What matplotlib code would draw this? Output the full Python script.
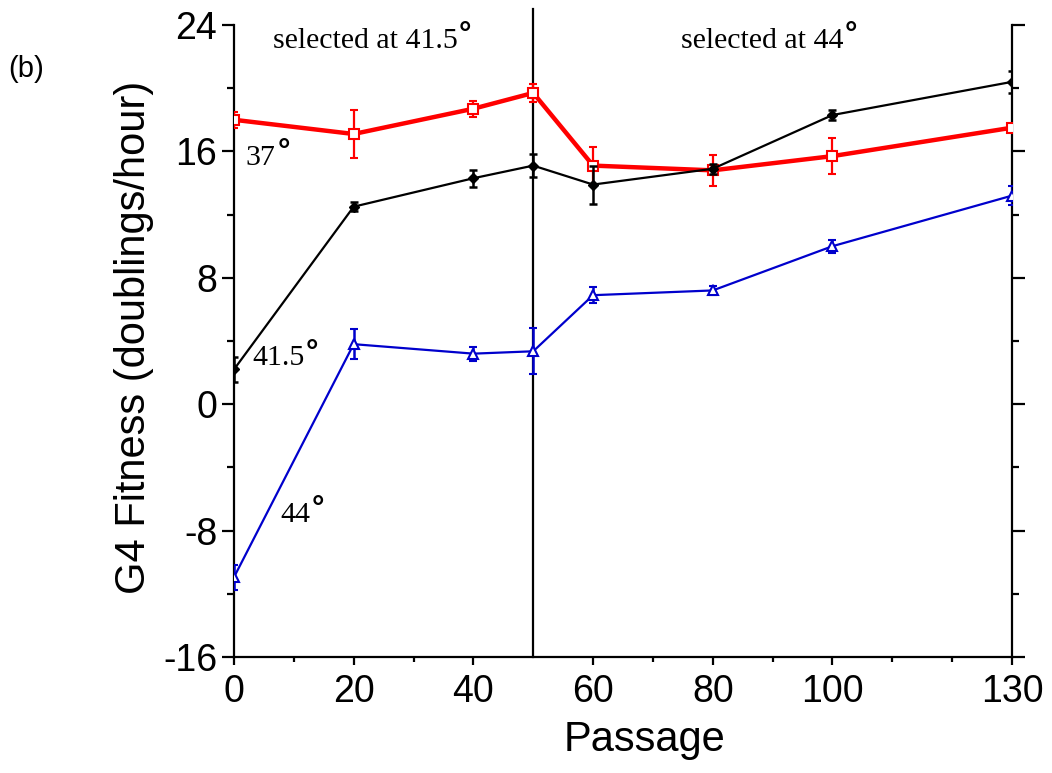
import numpy as np
import matplotlib
matplotlib.use('Agg')
import matplotlib.pyplot as plt
from matplotlib.ticker import FixedLocator, MultipleLocator

# passage numbers where fitness was measured
passage = [0, 20, 40, 50, 60, 80, 100, 130]

# G4 fitness at 37 deg (red, open squares)
fit_37 = [18.0, 17.1, 18.7, 19.7, 15.1, 14.8, 15.7, 17.5]
err_37 = [0.5, 1.5, 0.5, 0.55, 1.2, 1.0, 1.15, 0.2]

# G4 fitness at 41.5 deg (black, filled diamonds)
fit_415 = [2.2, 12.5, 14.3, 15.1, 13.9, 14.9, 18.3, 20.4]
err_415 = [0.8, 0.3, 0.55, 0.75, 1.2, 0.3, 0.3, 0.7]

# G4 fitness at 44 deg (blue, open triangles)
fit_44 = [-10.95, 3.8, 3.2, 3.35, 6.9, 7.2, 10.0, 13.2]
err_44 = [0.8, 0.95, 0.45, 1.45, 0.5, 0.3, 0.4, 0.6]

xticks_major = [0, 20, 40, 60, 80, 100, 130]
xticks_minor = [10, 30, 70, 90, 110, 120]

plt.rcParams['font.family'] = ['Liberation Sans', 'DejaVu Sans']
plt.rcParams['axes.unicode_minus'] = False

fig = plt.figure(figsize=(10.52, 7.73), dpi=100)
ax = fig.add_axes([0.2224, 0.150, 0.7396, 0.8177])

red = '#ff0000'
blue = '#0000cc'

# 37 deg
ax.errorbar(passage, fit_37, yerr=err_37, color=red, lw=3.2, marker='s',
            ms=7, mfc='white', mec=red, mew=1.5, ecolor=red, elinewidth=1.6,
            capsize=3.2, capthick=1.6, zorder=3)
# 44 deg
ax.errorbar(passage, fit_44, yerr=err_44, color=blue, lw=1.6, marker='^',
            ms=6.5, mfc='white', mec=blue, mew=1.5, ecolor=blue, elinewidth=1.8,
            capsize=3.2, capthick=1.8, zorder=3)
# 41.5 deg
ax.errorbar(passage, fit_415, yerr=err_415, color='black', lw=1.6, marker='D',
            ms=5.5, mfc='black', mec='black', ecolor='black', elinewidth=1.8,
            capsize=3.2, capthick=1.8, zorder=4)

# divider between the two selection regimes
ax.plot([50, 50], [-16, 25], color='black', lw=1.6, clip_on=False, zorder=2)

ax.set_xlim(0, 130)
ax.set_ylim(-16, 24)

ax.spines['top'].set_visible(False)
for s in ['left', 'right', 'bottom']:
    ax.spines[s].set_linewidth(1.6)

ax.xaxis.set_major_locator(FixedLocator(xticks_major))
ax.xaxis.set_minor_locator(FixedLocator(xticks_minor))
ax.yaxis.set_major_locator(MultipleLocator(8))
ax.yaxis.set_minor_locator(MultipleLocator(4))
ax.tick_params(axis='both', which='both', direction='out', width=1.6)
ax.tick_params(axis='y', which='both', left=True, right=True)
ax.tick_params(axis='y', which='major', length=9, labelsize=27, pad=3)
ax.tick_params(axis='y', which='minor', length=5)
ax.tick_params(axis='x', which='major', length=6, labelsize=27, pad=6)
ax.tick_params(axis='x', which='minor', length=3.5)

ax.set_xlabel('Passage', fontsize=30, va='top')
ax.set_ylabel('G4 Fitness (doublings/hour)', fontsize=30)
ax.xaxis.set_label_coords(0.528, -0.100)
ax.yaxis.set_label_coords(-0.1028, 0.5055)

serif = ['Liberation Serif', 'DejaVu Serif']


def deg_label(x, y, s, size=21.5):
    t = ax.text(x, y, s, fontsize=size, family=serif, va='center', ha='left')
    ax.annotate('°', xy=(1.0, 1.0), xycoords=t, xytext=(1.0, 5.5),
                textcoords='offset points', fontsize=size + 1,
                va='top', ha='left', fontweight='bold')
    return t


deg_label(6.5, 23.0, 'selected at 41.5')
deg_label(74.7, 23.0, 'selected at 44')
deg_label(2.0, 15.6, '37')
deg_label(3.0, 2.9, '41.5')
deg_label(7.8, -7.0, '44')

fig.text(0.0076, 0.900, '(b)', fontsize=21, va='baseline')

fig.savefig('out.png', dpi=100)
